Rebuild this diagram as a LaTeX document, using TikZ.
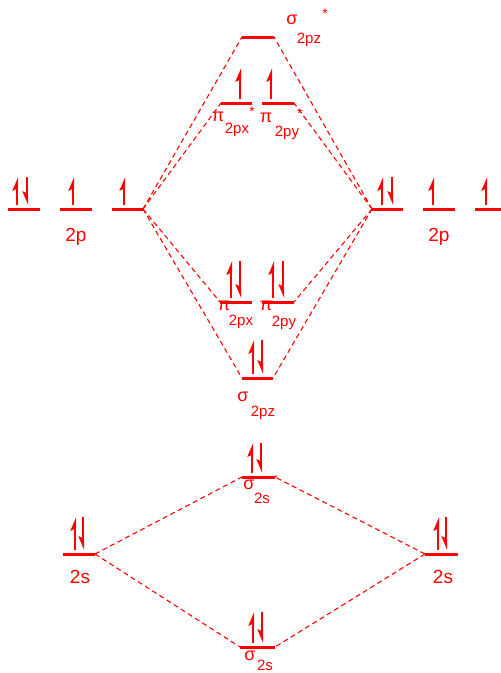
\documentclass[tikz,border=0pt]{standalone}
\usepackage{fontspec}
\setmainfont{Liberation Sans}
\usetikzlibrary{arrows.meta}
\tikzset{
  level/.style={red, line width=3pt},
  dline/.style={red, line width=1.1pt, dash pattern=on 5pt off 3.5pt},
  eup/.style={red, line width=2.2pt, -{Stealth[left,length=11pt,width=9pt,inset=2pt]}},
  edown/.style={red, line width=2.2pt, -{Stealth[right,length=11pt,width=9pt,inset=2pt]}},
  lab/.style={text=red, inner sep=0pt, font=\fontsize{19}{19}\selectfont},
  sub/.style={text=red, inner sep=0pt, font=\fontsize{15}{15}\selectfont},
  greek/.style={text=red, inner sep=0pt, font=\fontsize{18}{18}\selectfont},
  star/.style={text=red, inner sep=0pt, font=\fontsize{14}{14}\selectfont},
}
\newcommand\mylevel[4]{\coordinate (#1l) at (#2,#4); \coordinate (#1r) at (#3,#4); \draw[level] (#1l) -- (#1r);}
\newcommand\myup[4]{\coordinate (#1a) at (#2,#4); \coordinate (#1b) at (#2,#3); \draw[eup] (#1a) -- (#1b);}
\newcommand\mydown[4]{\coordinate (#1a) at (#2,#3); \coordinate (#1b) at (#2,#4); \draw[edown] (#1a) -- (#1b);}
\begin{document}
\begin{tikzpicture}[x=1pt,y=-1pt]
\useasboundingbox (0,0) rectangle (501,673);
% levels
\mylevel{LpA}{8}{40}{209}
\mylevel{LpB}{60}{92}{209}
\mylevel{LpC}{112}{143}{209}
\mylevel{RpA}{372}{403}{209}
\mylevel{RpB}{423}{455}{209}
\mylevel{RpC}{475}{506}{209}
\mylevel{sgs}{242}{274}{37}
\mylevel{pxs}{221}{252}{103}
\mylevel{pys}{262}{294}{103}
\mylevel{px}{220}{252}{302}
\mylevel{py}{262}{294}{302}
\mylevel{sg}{242}{273}{378}
\mylevel{sss}{242}{275}{477}
\mylevel{Ls}{63}{95}{554}
\mylevel{Rs}{425}{458}{554}
\mylevel{ss}{240}{275}{647}
% dashed correlation lines
\draw[dline] (LpCr) -- (sgsl);
\draw[dline] (LpCr) -- (pxsl);
\draw[dline] (LpCr) -- (pxl);
\draw[dline] (LpCr) -- (sgl);
\draw[dline] (RpAl) -- (sgsr);
\draw[dline] (RpAl) -- (pysr);
\draw[dline] (RpAl) -- (pyr);
\draw[dline] (RpAl) -- (sgr);
\draw[dline] (Lsr) -- (sssl);
\draw[dline] (Lsr) -- (ssl);
\draw[dline] (Rsl) -- (sssr);
\draw[dline] (Rsl) -- (ssr);
% electrons
\myup{e1}{17}{177}{205}
\mydown{e2}{27}{177}{205}
\myup{e3}{73}{177}{205}
\myup{e4}{124}{177}{205}
\myup{e5}{382}{177}{205}
\mydown{e6}{392}{177}{205}
\myup{e7}{433}{177}{205}
\myup{e8}{486}{177}{205}
\myup{e9}{240}{68}{99}
\myup{e10}{271}{68}{99}
\myup{e11}{231}{261}{298}
\mydown{e12}{240}{261}{298}
\myup{e13}{273}{261}{298}
\mydown{e14}{283}{261}{298}
\myup{e15}{253}{340}{374}
\mydown{e16}{262}{340}{374}
\myup{e17}{252}{443}{473}
\mydown{e18}{261}{443}{473}
\myup{e19}{75}{517}{550}
\mydown{e20}{83}{517}{550}
\myup{e21}{438}{517}{550}
\mydown{e22}{446}{517}{550}
\myup{e23}{253}{612}{643}
\mydown{e24}{262}{612}{643}
% labels
\node[greek] (t1) at (292,20) {σ};
\node[sub] (t2) at (309,40) {2pz};
\node[star] (t3) at (325,14) {*};
\node[greek] (t4) at (218,117) {π};
\node[star] (t5) at (252,112) {*};
\node[sub] (t6) at (237,130) {2px};
\node[greek] (t7) at (266,118) {π};
\node[star] (t8) at (300,114) {*};
\node[sub] (t9) at (287,133) {2py};
\node[lab] (t10) at (76,237) {2p};
\node[lab] (t11) at (439,237) {2p};
\node[greek] (t12) at (224,306) {π};
\node[sub] (t13) at (241,322) {2px};
\node[greek] (t14) at (266,306) {π};
\node[sub] (t15) at (284,323) {2py};
\node[greek] (t16) at (243,397) {σ};
\node[sub] (t17) at (263,413) {2pz};
\node[greek] (t18) at (249,485) {σ};
\node[sub] (t19) at (262,498) {2s};
\node[star, font=\fontsize{9}{9}\selectfont] (t20) at (276,478) {*};
\node[lab] (t21) at (80,577) {2s};
\node[lab] (t22) at (443,577) {2s};
\node[greek] (t23) at (250,656) {σ};
\node[sub] (t24) at (265,665) {2s};
\end{tikzpicture}
\end{document}
